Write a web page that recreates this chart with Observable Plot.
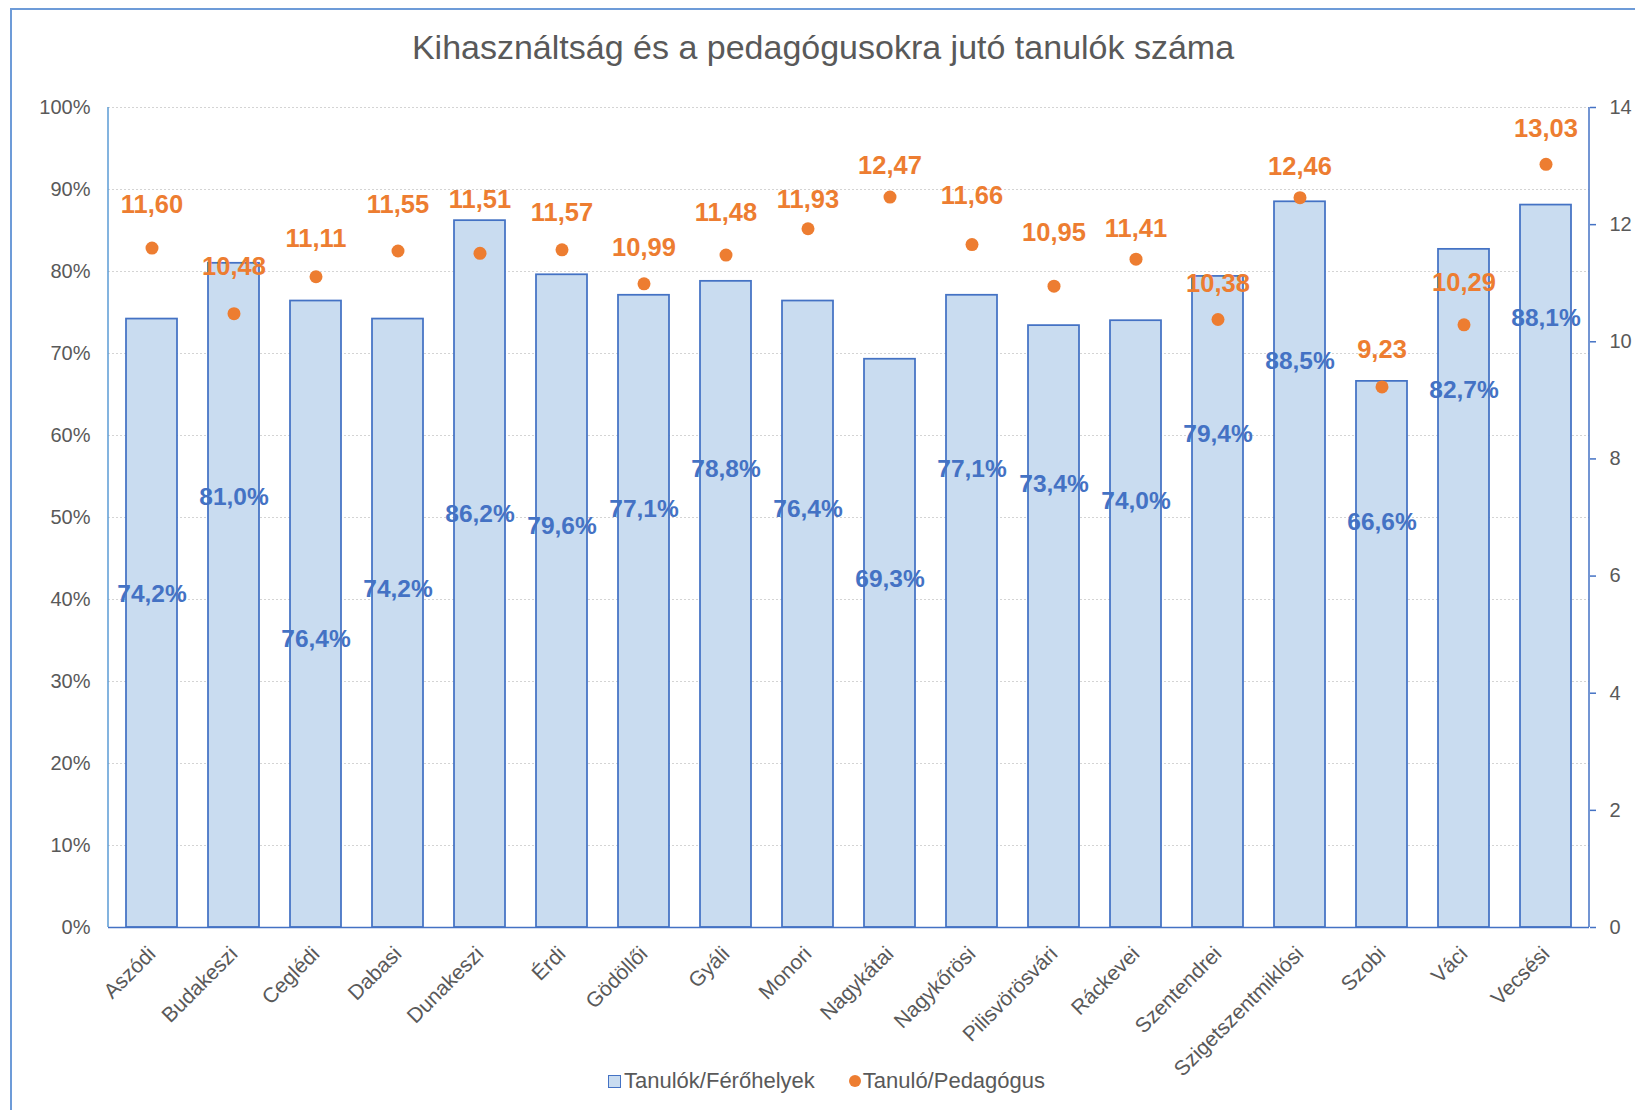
<!DOCTYPE html>
<html>
<head>
<meta charset="utf-8">
<script src="https://cdn.jsdelivr.net/npm/d3@7"></script>
<script src="https://cdn.jsdelivr.net/npm/@observablehq/plot@0.6"></script>
<style>
  body { margin: 0; background: #fff; font-family: "Liberation Sans", Arial, sans-serif; overflow: hidden; }
  #wrap { position: relative; width: 1635px; height: 1110px; overflow: hidden; }
  #frame { position: absolute; left: 10px; top: 8px; width: 1700px; height: 1200px;
           border-left: 2px solid #6d9bd8; border-top: 2px solid #6d9bd8; box-sizing: border-box; }
  #title { position: absolute; top: 27px; left: 823px; transform: translateX(-50%); white-space: nowrap;
           font-size: 34px; color: #595959; line-height: 40px; }
  #chart { position: absolute; left: 0; top: 80px; }
  #legend { position: absolute; top: 1067px; left: 608px; display: flex; align-items: center;
            font-size: 22px; color: #595959; white-space: nowrap; line-height: 28px; }
  .sw-bar { width: 11px; height: 11px; background: #c9dcf0; border: 1px solid #4472c4; margin-right: 3px; }
  .sw-dot { width: 12px; height: 12px; background: #ed7d31; border-radius: 50%; margin-left: 34px; margin-right: 2px; }
</style>
</head>
<body>
<div id="wrap">
  <div id="frame"></div>
  <div id="title">Kihasználtság és a pedagógusokra jutó tanulók száma</div>
  <div id="chart"></div>
  <div id="legend"><span class="sw-bar"></span><span>Tanulók/Férőhelyek</span><span class="sw-dot"></span><span>Tanuló/Pedagógus</span></div>
</div>
<script>
// ---- data ----
const categories = ["Aszódi","Budakeszi","Ceglédi","Dabasi","Dunakeszi","Érdi","Gödöllői","Gyáli","Monori",
  "Nagykátai","Nagykőrösi","Pilisvörösvári","Ráckevei","Szentendrei","Szigetszentmiklósi","Szobi","Váci","Vecsési"];
// Tanulók/Férőhelyek (%)
const utilization = [74.2, 81.0, 76.4, 74.2, 86.2, 79.6, 77.1, 78.8, 76.4, 69.3, 77.1, 73.4, 74.0, 79.4, 88.5, 66.6, 82.7, 88.1];
// Tanuló/Pedagógus
const studentsPerTeacher = [11.60, 10.48, 11.11, 11.55, 11.51, 11.57, 10.99, 11.48, 11.93, 12.47, 11.66, 10.95, 11.41, 10.38, 12.46, 9.23, 10.29, 13.03];
// where each data label sits in the reference (left-axis % units / right-axis units)
const barLabelAt = [40.7, 52.5, 35.2, 41.3, 50.4, 49.0, 51.0, 55.9, 51.0, 42.5, 55.9, 54.1, 52.0, 60.2, 69.1, 49.4, 65.5, 74.3];
const pointLabelAt = [12.34, 11.28, 11.76, 12.34, 12.43, 12.20, 11.60, 12.20, 12.43, 13.00, 12.49, 11.86, 11.93, 10.99, 12.99, 9.87, 11.01, 13.63];
const leftTicks = [0, 10, 20, 30, 40, 50, 60, 70, 80, 90, 100];
const rightTicks = [0, 2, 4, 6, 8, 10, 12, 14];
const rightMax = 14;

const R = 100 / rightMax; // right-axis units -> left-axis %
const comma = s => s.replace(".", ",");
const fmtPct = v => comma(d3.format(".1f")(v)) + "%";
const fmt2 = v => comma(d3.format(".2f")(v));

const data = categories.map((c, i) => ({
  cat: c, util: utilization[i], ratio: studentsPerTeacher[i], bl: barLabelAt[i], pl: pointLabelAt[i]
}));

// vertical axis lines at the plot's left and right edges, spanning the y scale
function axisLines(index, scales, values, dims) {
  const g = d3.create("svg:g");
  const yTop = scales.y(100), yBot = scales.y(0);
  const xl = dims.marginLeft, xr = dims.width - dims.marginRight;
  g.append("line").attr("x1", xl).attr("x2", xl).attr("y1", yTop).attr("y2", yBot)
    .attr("stroke", "#5b9bd5").attr("stroke-width", 1.5);
  g.append("line").attr("x1", xr).attr("x2", xr).attr("y1", yTop).attr("y2", yBot)
    .attr("stroke", "#4472c4").attr("stroke-width", 1.5);
  return g.node();
}

const font = '"Liberation Sans", Arial, sans-serif';
const chart = Plot.plot({
  width: 1635,
  height: 1030,
  marginTop: 27,
  marginBottom: 183,
  marginLeft: 108,
  marginRight: 46,
  style: { fontFamily: font, background: "transparent", overflow: "visible" },
  x: { domain: categories, paddingInner: 0.38, paddingOuter: 0.19, label: null },
  y: { domain: [0, 100], label: null },
  marks: [
    Plot.gridY(leftTicks.slice(1), { stroke: "#d4d4d4", strokeOpacity: 1, strokeDasharray: "2,2" }),
    Plot.barY(data, { x: "cat", y: "util", fill: "#c9dcf0", stroke: "#4472c4", strokeWidth: 1.75 }),
    Plot.ruleY([0], { stroke: "#4472c4", strokeWidth: 1.5 }),
    axisLines,
    Plot.axisY(leftTicks, { anchor: "left", tickSize: 0, tickPadding: 18, tickFormat: d => d + "%",
      fontSize: 20, fill: "#595959", stroke: "#5b9bd5" }),
    Plot.axisY(rightTicks.map(v => v * R), { anchor: "right", tickSize: 6, tickPadding: 14,
      tickFormat: d => String(Math.round(d / R)), fontSize: 20, fill: "#595959", stroke: "#4472c4", strokeWidth: 1.5 }),
    Plot.axisX({ tickSize: 0, tickRotate: -45, tickPadding: 23, fontSize: 21, fill: "#595959" }),
    Plot.dot(data, { x: "cat", y: d => d.ratio * R, r: 6.5, fill: "#ed7d31" }),
    Plot.text(data, { x: "cat", y: "bl", text: d => fmtPct(d.util), fill: "#4472c4", fontSize: 24.5, fontWeight: "bold" }),
    Plot.text(data, { x: "cat", y: d => d.pl * R, text: d => fmt2(d.ratio), fill: "#ed7d31", fontSize: 25.5, fontWeight: "bold" })
  ]
});
document.getElementById("chart").appendChild(chart);
</script>
</body>
</html>
